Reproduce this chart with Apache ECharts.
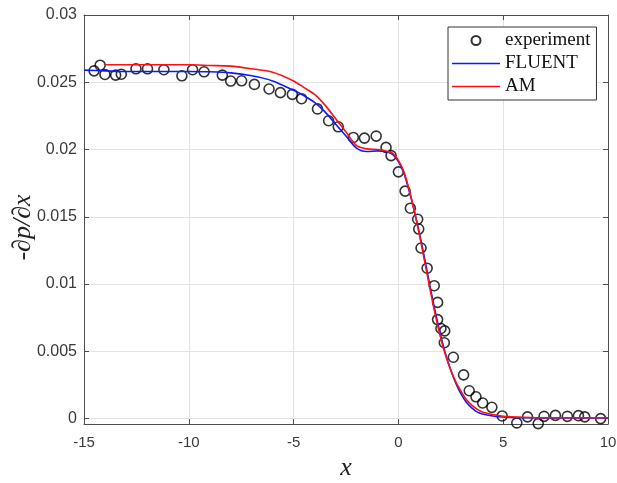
<!DOCTYPE html>
<html>
<head>
<meta charset="utf-8">
<script src="https://cdn.jsdelivr.net/npm/echarts@6/dist/echarts.min.js"></script>
<style>
  html, body { margin: 0; padding: 0; background: #ffffff; }
  #chart { width: 617px; height: 483px; }
</style>
</head>
<body>
<div id="chart"></div>
<script>
// Measured pressure gradient
const expX = [-14.52, -14.23, -14.0, -13.49, -13.22, -12.52, -11.97, -11.19, -10.33, -9.82,
  -9.27, -8.40, -8.0, -7.48, -6.87, -6.17, -5.63, -5.06, -4.62, -3.86,
  -3.33, -2.87, -2.15, -1.62, -1.06, -0.59, -0.35, 0.0, 0.32, 0.57,
  0.92, 0.97, 1.08, 1.37, 1.71, 1.87, 1.87, 2.03, 2.21, 2.19,
  2.62, 3.11, 3.38, 3.70, 4.02, 4.46, 4.95, 5.65, 6.16, 6.67,
  6.95, 7.49, 8.06, 8.59, 8.89, 9.65];
const expY = [0.02585, 0.02627, 0.02558, 0.02553, 0.0256, 0.0260, 0.0260, 0.02593, 0.02548, 0.02593,
  0.02578, 0.02553, 0.02509, 0.02511, 0.02484, 0.0245, 0.02423, 0.0241, 0.02378, 0.02302,
  0.02214, 0.02169, 0.0209, 0.02085, 0.0210, 0.02016, 0.01955, 0.01834, 0.01691, 0.01564,
  0.01482, 0.01409, 0.01268, 0.01118, 0.00988, 0.00864, 0.00736, 0.0067, 0.00652, 0.00564,
  0.00456, 0.00325, 0.00207, 0.00162, 0.00116, 0.00084, 0.0002, -0.00032, 0.00013, -0.00037,
  0.00017, 0.00024, 0.00017, 0.00022, 0.00013, 0.0];

// FLUENT solution
const fluentX = [-15, -14, -13, -12, -11, -10, -9, -8, -7, -6, -5, -4.5, -4, -3.5, -3, -2.5, -2,
  -1.5, -1, -0.5, -0.25, 0, 0.25, 0.5, 0.75, 1.0, 1.25, 1.5, 1.75, 2.0, 2.25, 2.5, 2.75,
  3.0, 3.25, 3.5, 3.75, 4, 4.5, 5, 6, 7, 8, 9, 10];
const fluentY = [0.0259, 0.02585, 0.0258, 0.0258, 0.0258, 0.0258, 0.02578, 0.0257, 0.02548, 0.0251,
  0.0244, 0.0240, 0.0235, 0.0228, 0.0219, 0.0210, 0.0201, 0.01985, 0.0199, 0.0198, 0.0196,
  0.0191, 0.0183, 0.0170, 0.0155, 0.0138, 0.0119, 0.0099, 0.0080, 0.0063, 0.0048, 0.0036,
  0.0026, 0.0018, 0.0012, 0.0008, 0.0005, 0.00035, 0.0002, 0.00012, 0.00006, 0.00005,
  0.00005, 0.00005, 0.00005];

// AM solution
const amX = [-14, -13, -12, -11, -10, -9, -8, -7, -6, -5, -4.5, -4, -3.5, -3, -2.5, -2,
  -1.5, -1, -0.5, -0.25, 0, 0.25, 0.5, 0.75, 1.0, 1.25, 1.5, 1.75, 2.0, 2.25, 2.5, 2.75,
  3.0, 3.25, 3.5, 3.75, 4, 4.5, 5, 6, 7, 8, 9, 10];
const amY = [0.0263, 0.0263, 0.0263, 0.0263, 0.0263, 0.02625, 0.0262, 0.0260, 0.02575, 0.0251,
  0.0246, 0.0241, 0.0233, 0.0223, 0.0213, 0.0203, 0.02005, 0.0200, 0.01985, 0.0197,
  0.0192, 0.0184, 0.0171, 0.0155, 0.0137, 0.0117, 0.0097, 0.0078, 0.0061, 0.0047, 0.0036,
  0.0027, 0.0020, 0.0014, 0.0010, 0.0007, 0.0005, 0.0003, 0.00018, 0.0001, 0.00006,
  0.00006, 0.00006, 0.00006];

const xTicks = [-15, -10, -5, 0, 5, 10];
const yTicks = [0, 0.005, 0.01, 0.015, 0.02, 0.025, 0.03];

const zip = (xs, ys) => xs.map((x, i) => [x, ys[i]]);

const axisColor = '#4d4d4d';
const labelColor = '#3a3a3a';
const gridColor = '#e3e3e3';
const serif = '"Liberation Serif", "DejaVu Serif", serif';
const sans = '"Liberation Sans", Arial, sans-serif';
// thin bar used as the legend glyph of the two solution curves
const lineIcon = 'path://M0 0H100V3H0Z';

const chart = echarts.init(document.getElementById('chart'), null, { renderer: 'canvas' });

const baseX = {
  type: 'value', min: -15, max: 10, interval: 5,
  axisLine: { show: true, onZero: false, lineStyle: { color: axisColor, width: 1 } },
  axisTick: { show: true, inside: true, length: 5, lineStyle: { color: axisColor } }
};
const baseY = {
  type: 'value', min: -0.0004, max: 0.03,
  axisLine: { show: true, onZero: false, lineStyle: { color: axisColor, width: 1 } },
  axisTick: { show: true, inside: true, length: 5, customValues: yTicks, lineStyle: { color: axisColor } }
};

chart.setOption({
  animation: false,
  backgroundColor: '#ffffff',
  grid: { left: 84, right: 9, top: 15, bottom: 59, containLabel: false, outerBoundsMode: 'none' },
  legend: {
    left: 448, top: 27, orient: 'vertical',
    backgroundColor: '#ffffff',
    borderColor: '#333333', borderWidth: 1, borderRadius: 0,
    padding: [3, 6, 3, 4],
    itemWidth: 48, itemHeight: 9, itemGap: 2,
    textStyle: { fontFamily: serif, fontSize: 19, color: '#111111', lineHeight: 21 },
    data: [
      { name: 'experiment', icon: 'circle' },
      { name: 'FLUENT', icon: lineIcon },
      { name: 'AM', icon: lineIcon }
    ]
  },
  xAxis: [
    Object.assign({}, baseX, {
      position: 'bottom',
      name: 'x', nameLocation: 'middle', nameGap: 31, nameMoveOverlap: false,
      nameTextStyle: { fontFamily: serif, fontStyle: 'italic', fontSize: 26, color: '#222222' },
      axisLabel: { show: true, margin: 11, fontFamily: sans, fontSize: 15, color: labelColor },
      splitLine: { show: true, lineStyle: { color: gridColor, width: 1 } }
    }),
    Object.assign({}, baseX, {
      position: 'top',
      axisLabel: { show: false },
      splitLine: { show: false }
    })
  ],
  yAxis: [
    Object.assign({}, baseY, {
      position: 'left',
      name: '-∂p/∂x', nameLocation: 'middle', nameGap: 48, nameMoveOverlap: false,
      nameTextStyle: { fontFamily: serif, fontStyle: 'italic', fontSize: 26, color: '#222222', padding: [0, 16, 0, 0] },
      axisLabel: {
        show: true, margin: 7, customValues: yTicks,
        fontFamily: sans, fontSize: 16, color: labelColor,
        formatter: v => String(+v.toFixed(4))
      },
      splitLine: { show: true, lineStyle: { color: gridColor, width: 1 } }
    }),
    Object.assign({}, baseY, {
      position: 'right',
      axisLabel: { show: false },
      splitLine: { show: false }
    })
  ],
  series: [
    {
      name: 'experiment', type: 'scatter',
      xAxisIndex: 0, yAxisIndex: 0,
      data: zip(expX, expY),
      symbol: 'circle', symbolSize: 10,
      itemStyle: { color: 'rgba(255,255,255,0)', borderColor: '#000000', borderWidth: 1.6 },
      z: 3
    },
    {
      name: 'FLUENT', type: 'line',
      xAxisIndex: 0, yAxisIndex: 0,
      data: zip(fluentX, fluentY),
      symbol: 'none', smooth: 0.3,
      lineStyle: { color: '#0a1bff', width: 1.6 },
      itemStyle: { color: '#0a1bff' },
      z: 4
    },
    {
      name: 'AM', type: 'line',
      xAxisIndex: 0, yAxisIndex: 0,
      data: zip(amX, amY),
      symbol: 'none', smooth: 0.3,
      lineStyle: { color: '#ff1010', width: 1.6 },
      itemStyle: { color: '#ff1010' },
      z: 5
    }
  ]
});
</script>
</body>
</html>
